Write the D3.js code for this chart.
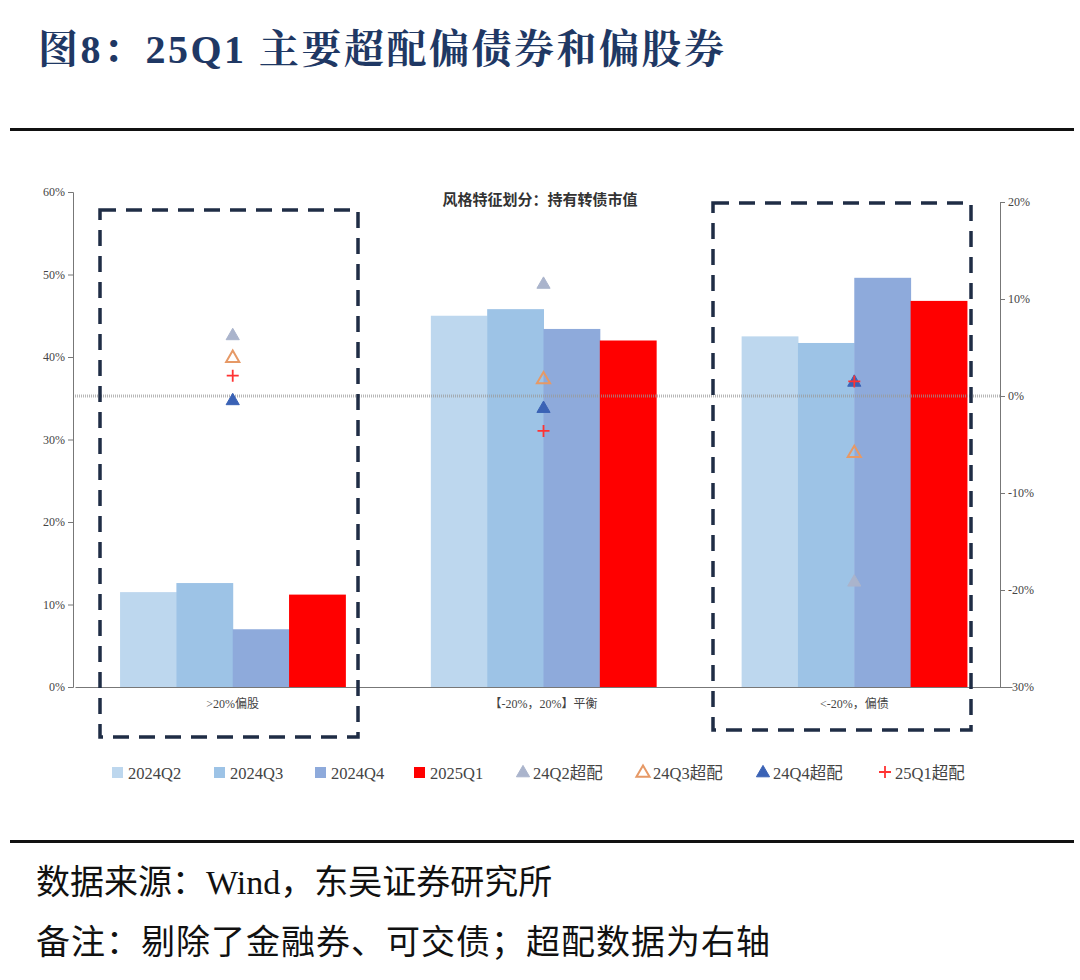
<!DOCTYPE html><html><head><meta charset="utf-8"><script src="https://cdn.jsdelivr.net/npm/d3@7"></script>
<style>body{margin:0;background:#fff}</style></head><body><svg id="c" width="1080" height="980"></svg><script>
const categories=[">20%偏股","【-20%，20%】平衡","<-20%，偏债"];
const barSeries=["2024Q2","2024Q3","2024Q4","2025Q1"];
const barColors=["#bdd7ee","#9dc3e6","#8eaadb","#ff0000"];
const v2024Q2=[11.5,45.0,42.5];
const v2024Q3=[12.6,45.8,41.7];
const v2024Q4=[7.0,43.4,49.6];
const v2025Q1=[11.2,42.0,46.8];
const markSeries=["24Q2超配","24Q3超配","24Q4超配","25Q1超配"];
const o24Q2=[6.3,11.6,-19.1];
const o24Q3=[4.0,1.8,-5.8];
const o24Q4=[-0.4,-1.2,1.5];
const o25Q1=[2.1,-3.6,1.5];
const leftTicks=[0,10,20,30,40,50,60];
const rightTicks=[-30,-20,-10,0,10,20];
const barVals=[v2024Q2,v2024Q3,v2024Q4,v2025Q1];
const markVals=[o24Q2,o24Q3,o24Q4,o25Q1];
const svg=d3.select("#c");
const serif="'Liberation Serif','Noto Sans CJK SC',serif";
const L=73,R=1000,T=192,B=687;
svg.append("text").attr("x",38).attr("y",63).text("图8：25Q1 主要超配偏债券和偏股券").attr("font-family","'Liberation Serif','Noto Serif CJK SC','Noto Sans CJK SC',serif").attr("font-weight","bold").attr("font-size",40).attr("letter-spacing",2.5).attr("fill","#1f3864");
svg.append("rect").attr("x",10).attr("y",128).attr("width",1064).attr("height",3).attr("fill","#111");
svg.append("rect").attr("x",10).attr("y",840).attr("width",1064).attr("height",3).attr("fill","#111");
const x=d3.scaleBand().domain(categories).range([L+2,R+12]).paddingInner(0.275).paddingOuter(0.145);
const xs=d3.scaleBand().domain(barSeries).range([0,x.bandwidth()]);
const yL=d3.scaleLinear().domain([0,60]).range([B,T]);
const yR=d3.scaleLinear().domain([-30,20]).range([B,202]);
const g=svg.append("g");
barSeries.forEach((s,i)=>{g.selectAll(".b"+i).data(categories).enter().append("rect").attr("x",c=>x(c)+xs(s)).attr("width",xs.bandwidth()+0.5).attr("y",(c,j)=>yL(barVals[i][j])).attr("height",(c,j)=>B-yL(barVals[i][j])).attr("fill",barColors[i]);});
svg.append("line").attr("x1",L).attr("x2",R).attr("y1",yR(0)).attr("y2",yR(0)).attr("stroke","#999").attr("stroke-width",3).attr("stroke-dasharray","1,1").attr("opacity",0.7);
const fnt=g=>g.selectAll("text").attr("font-family",serif).attr("font-size",12).attr("fill","#444");
svg.append("g").attr("transform",`translate(${L},0)`).call(d3.axisLeft(yL).tickValues(leftTicks).tickFormat(d=>d+"%").tickSize(5)).call(fnt).call(g=>g.selectAll("path,line").attr("stroke","#777"));
svg.append("g").attr("transform",`translate(${R},0)`).call(d3.axisRight(yR).tickValues(rightTicks).tickFormat(d=>d+"%").tickSize(5)).call(fnt).call(g=>g.selectAll("path,line").attr("stroke","#777"));
svg.append("g").attr("transform",`translate(0,${B})`).call(d3.axisBottom(x).tickSize(0).tickPadding(12)).call(fnt).call(g=>g.selectAll("path").attr("stroke","#777"));
const sym=[d3.symbolTriangle,d3.symbolTriangle,d3.symbolTriangle,d3.symbolCross];
const mk=[{fill:"#aab4cc",stroke:"#aab4cc"},{fill:"none",stroke:"#e69966"},{fill:"#3a62b5",stroke:"#3a62b5"},{fill:"none",stroke:"#ff3333"}];
function drawMark(sel,i,px,py){
 if(i===3){sel.append("path").attr("d",`M${px-6},${py}H${px+6}M${px},${py-6}V${py+6}`).attr("stroke",mk[i].stroke).attr("stroke-width",1.8);}
 else sel.append("path").attr("d",d3.symbol().type(sym[i]).size(75)()).attr("transform",`translate(${px},${py+1})`).attr("fill",mk[i].fill).attr("stroke",mk[i].stroke).attr("stroke-width",i===1?2:1);
}
markSeries.forEach((s,i)=>categories.forEach((c,j)=>drawMark(svg,i,x(c)+x.bandwidth()/2,yR(markVals[i][j]))));
const box=(x0,x1,y0,y1)=>svg.append("rect").attr("x",x0).attr("y",y0).attr("width",x1-x0).attr("height",y1-y0).attr("fill","none").attr("stroke","#1f2d45").attr("stroke-width",3.5).attr("stroke-dasharray","16,10");
box(100,358,210,737);box(713,971,203,730);
svg.append("text").attr("x",540).attr("y",205).attr("text-anchor","middle").text("风格特征划分：持有转债市值").attr("font-family","'Noto Sans CJK SC',sans-serif").attr("font-weight","bold").attr("font-size",15).attr("fill","#333");
const lx=[112,214,315,414,518,638,758,880];
barSeries.forEach((s,i)=>{svg.append("rect").attr("x",lx[i]).attr("y",767).attr("width",11).attr("height",11).attr("fill",barColors[i]);svg.append("text").attr("x",lx[i]+16).attr("y",779).text(s).attr("font-family",serif).attr("font-size",16.5).attr("fill","#444");});
markSeries.forEach((s,i)=>{drawMark(svg,i,lx[i+4]+5,772);svg.append("text").attr("x",lx[i+4]+15).attr("y",779).text(s).attr("font-family",serif).attr("font-size",16.5).attr("fill","#444");});
svg.append("text").attr("x",36).attr("y",894).text("数据来源：Wind，东吴证券研究所").attr("font-family",serif).attr("font-size",34).attr("fill","#111");
svg.append("text").attr("x",36).attr("y",954).text("备注：剔除了金融券、可交债；超配数据为右轴").attr("font-family",serif).attr("font-size",34).attr("letter-spacing",1).attr("fill","#111");
</script></body></html>
